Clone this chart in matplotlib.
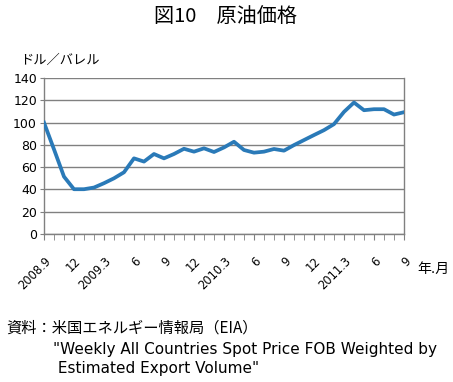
import numpy as np
import matplotlib
matplotlib.use('Agg')
import matplotlib.pyplot as plt

plt.rcParams['font.family'] = ['Noto Sans CJK JP', 'DejaVu Sans']

# monthly crude oil price, 2008.9 - 2011.9 (USD / barrel)
prices = [100, 76, 51.5, 40.2, 40.2, 41.7, 45.6, 50, 55.4, 67.9, 65, 71.8,
          67.9, 71.8, 76.5, 73.9, 76.9, 73.6, 77.7, 82.8, 75.4, 73, 73.9, 76.3,
          74.8, 79.8, 84.3, 88.8, 93.2, 98.6, 109.6, 118, 111.1, 112, 112, 107.2,
          109.3]
tick_labels = ['2008.9', '12', '2009.3', '6', '9', '12', '2010.3', '6', '9',
               '12', '2011.3', '6', '9']
y_ticks = [0, 20, 40, 60, 80, 100, 120, 140]

fig = plt.figure(figsize=(4.53, 3.82), dpi=100)
ax = fig.add_axes([0.0971, 0.3874, 0.7947, 0.4084])

x = np.arange(len(prices))
ax.plot(x, prices, color='#2a7ab8', lw=2.7, solid_joinstyle='round', zorder=3)

ax.set_xlim(0, len(prices) - 1)
ax.set_ylim(0, 140)
ax.set_yticks(y_ticks)
ax.set_yticklabels([str(v) for v in y_ticks], family='DejaVu Sans', fontsize=9)
ax.yaxis.grid(True, color='#808080', lw=1)
ax.set_axisbelow(True)

ax.set_xticks(x, minor=True)
ax.set_xticks(x[::3])
ax.set_xticklabels(tick_labels, rotation=45, ha='right', rotation_mode='anchor',
                   family='DejaVu Sans', fontsize=8.3)
ax.tick_params(axis='x', which='both', length=4, color='#808080', pad=11)
ax.tick_params(axis='y', length=3, color='#808080', pad=2)

for s in ['left', 'right', 'top', 'bottom']:
    ax.spines[s].set_color('#808080')
    ax.spines[s].set_linewidth(1)
ax.spines['top'].set_visible(False)

src_font = ['DejaVu Sans', 'Noto Sans CJK JP']
fig.text(0.497, 0.953, '図10　原油価格', ha='center', va='center', fontsize=14.5)
fig.text(0.045, 0.843, 'ドル／バレル', ha='left', va='center', fontsize=9.5)
fig.text(0.922, 0.296, '年.月', ha='left', va='center', fontsize=10,
         family=src_font)

fig.text(0.015, 0.141, '資料：米国エネルギー情報局（EIA）', ha='left', va='center',
         fontsize=11, family=['Noto Sans CJK JP', 'DejaVu Sans'])
fig.text(0.118, 0.086, '"Weekly All Countries Spot Price FOB Weighted by',
         ha='left', va='center', fontsize=11, family=src_font)
fig.text(0.118, 0.035, ' Estimated Export Volume"', ha='left', va='center',
         fontsize=11, family=src_font)

fig.savefig('out.png', dpi=100)
